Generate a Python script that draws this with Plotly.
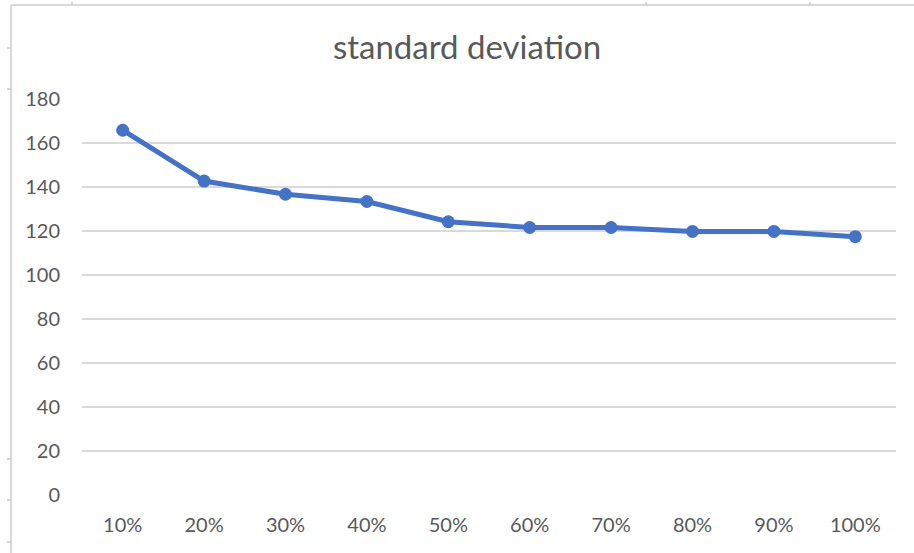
import plotly.graph_objects as go

# Share of data used and the resulting standard deviation
categories = ["10%", "20%", "30%", "40%", "50%", "60%", "70%", "80%", "90%", "100%"]
std_values = [165.8, 142.7, 136.7, 133.4, 124.2, 121.6, 121.6, 119.8, 119.8, 117.4]
y_ticks = [0, 20, 40, 60, 80, 100, 120, 140, 160, 180]

W, H = 914, 553
FONT = "Lato"
TEXT = "#595959"

fig = go.Figure(
    go.Scatter(
        x=categories,
        y=std_values,
        mode="lines+markers",
        line=dict(color="#4472C4", width=5),
        marker=dict(color="#4472C4", size=13),
        hoverinfo="x+y",
    )
)

# Sheet frame around the chart object (left and top edges with cell marks)
frame_left, frame_top = 11, 5
fig_shapes = [
    dict(type="line", xref="x domain", yref="y domain", layer="above",
         x0=(frame_left - 82) / 814, x1=(frame_left - 82) / 814,
         y0=(495 - H) / 396, y1=(495 - frame_top) / 396,
         line=dict(color="#d9d9d9", width=2)),
    dict(type="line", xref="x domain", yref="y domain", layer="above",
         x0=(frame_left - 82) / 814, x1=(W - 82) / 814,
         y0=(495 - frame_top) / 396, y1=(495 - frame_top) / 396,
         line=dict(color="#d9d9d9", width=2)),
]
for px in [72, 646, 810]:
    fig_shapes.append(dict(type="line", xref="x domain", yref="y domain",
                           x0=(px - 82) / 814, x1=(px - 82) / 814,
                           y0=(495 - 2) / 396, y1=(495 - 5) / 396,
                           line=dict(color="#c8c8c8", width=1.5)))
for py in [48, 89, 459, 500, 542]:
    fig_shapes.append(dict(type="line", xref="x domain", yref="y domain",
                           x0=(7 - 82) / 814, x1=(11 - 82) / 814,
                           y0=(495 - py) / 396, y1=(495 - py) / 396,
                           line=dict(color="#c8c8c8", width=1.5)))

fig.update_layout(
    width=W,
    height=H,
    margin=dict(l=82, r=W - 896, t=99, b=H - 495, pad=0),
    paper_bgcolor="white",
    plot_bgcolor="white",
    showlegend=False,
    font=dict(family=FONT, color=TEXT, size=20),
    title=dict(
        text="standard deviation",
        x=467 / W, xref="container", xanchor="center",
        y=1 - 47 / H, yref="container", yanchor="middle",
        font=dict(family=FONT, size=33, color=TEXT),
    ),
    xaxis=dict(
        type="category",
        categoryorder="array",
        categoryarray=categories,
        range=[-0.5, len(categories) - 0.5],
        showgrid=False,
        showline=False,
        zeroline=False,
        ticks="",
        ticklabelstandoff=16,
        tickfont=dict(family=FONT, size=20, color=TEXT),
        fixedrange=True,
    ),
    yaxis=dict(
        range=[0, 180],
        tickvals=y_ticks,
        showgrid=True,
        gridcolor="#d9d9d9",
        gridwidth=1.5,
        zeroline=False,
        showline=False,
        ticks="",
        ticklabelstandoff=21,
        tickfont=dict(family=FONT, size=20, color=TEXT),
        fixedrange=True,
    ),
    shapes=fig_shapes,
)

fig.write_html("out.html")
